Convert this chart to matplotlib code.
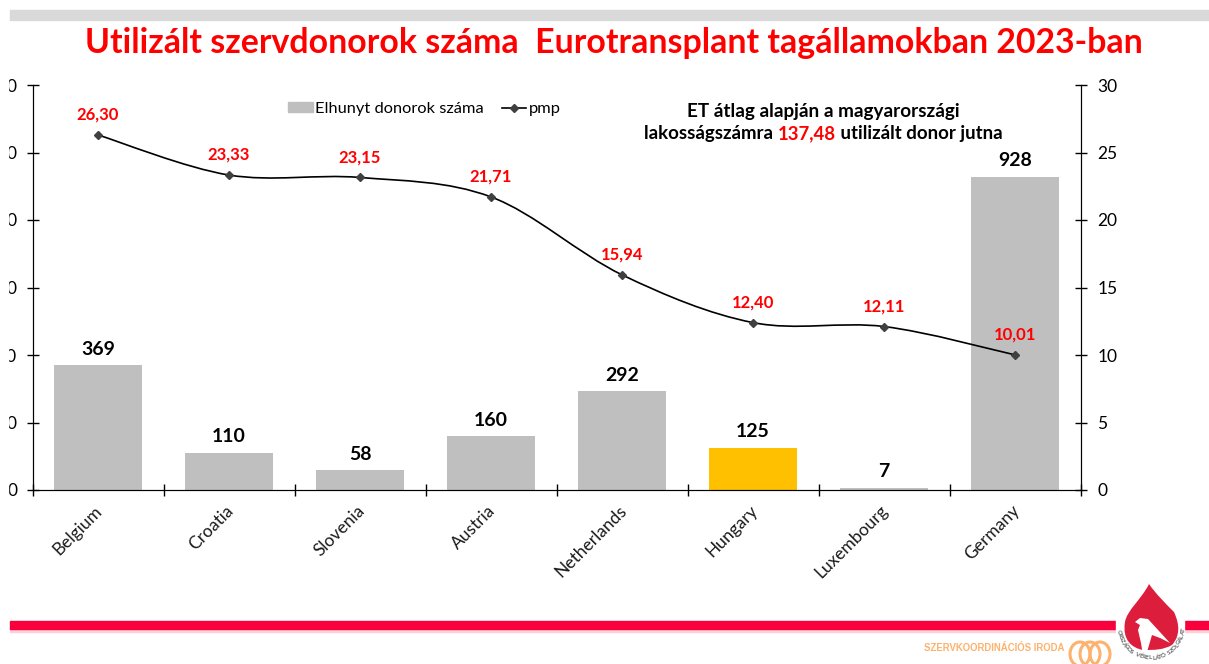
import matplotlib

matplotlib.use("Agg")

import matplotlib.pyplot as plt
from matplotlib.lines import Line2D
from matplotlib.patches import Ellipse, PathPatch, Rectangle
from matplotlib.path import Path
import numpy as np

plt.rcParams["font.family"] = ["Lato", "DejaVu Sans"]

W, H = 1209, 664

TITLE = "Utilizált szervdonorok száma  Eurotransplant tagállamokban 2023-ban"
countries = ["Belgium", "Croatia", "Slovenia", "Austria", "Netherlands", "Hungary", "Luxembourg", "Germany"]
donors = [369, 110, 58, 160, 292, 125, 7, 928]
pmp = [26.30, 23.33, 23.15, 21.71, 15.94, 12.40, 12.11, 10.01]
bar_colors = ["#BFBFBF", "#BFBFBF", "#BFBFBF", "#BFBFBF", "#BFBFBF", "#FFC000", "#BFBFBF", "#BFBFBF"]
left_ticks = [0, 200, 400, 600, 800, 1000, 1200]
right_ticks = [0, 5, 10, 15, 20, 25, 30]
NOTE_1 = "ET átlag alapján a magyarországi"
NOTE_2 = [("lakosságszámra ", "black"), ("137,48", "#FF0000"), (" utilizált donor jutna", "black")]
LOGO_RING = "ORSZÁGOS VÉRELLÁTÓ SZOLGÁLAT"


def smooth_path(xs, ys):
    # Excel style smoothed line: one bezier segment between each pair of points
    pts = np.column_stack([xs, ys])
    verts = [pts[0]]
    codes = [Path.MOVETO]
    for i in range(len(pts) - 1):
        prev_p = pts[max(i - 1, 0)]
        next_p = pts[min(i + 2, len(pts) - 1)]
        verts.append(pts[i] + (pts[i + 1] - prev_p) / 6)
        verts.append(pts[i + 1] - (next_p - pts[i]) / 6)
        verts.append(pts[i + 1])
        codes += [Path.CURVE4, Path.CURVE4, Path.CURVE4]
    return Path(verts, codes)


def draw_logo(deco):
    # gap in the red band
    deco.add_patch(Rectangle((1116, 578), 68, 86, color="white", zorder=3))
    drop = Path(
        [(1149, 584), (1141, 600), (1127, 610), (1125, 622),
         (1122, 640), (1132, 648), (1143, 650),
         (1155, 650), (1163, 650), (1172, 645),
         (1180, 636), (1180, 625), (1174, 612),
         (1165, 603), (1156, 594), (1149, 584)],
        [Path.MOVETO] + [Path.CURVE4] * 15,
    )
    deco.add_patch(PathPatch(drop, facecolor="#DC1E3C", edgecolor="none", zorder=4))
    # pelican
    body = Path(
        [(1135, 622), (1140, 618), (1148, 619), (1170, 643), (1160, 638), (1152, 635),
         (1147, 652), (1143, 655), (1141, 643), (1138, 630), (1140, 625), (1135, 622)],
        [Path.MOVETO] + [Path.LINETO] * 10 + [Path.CLOSEPOLY],
    )
    deco.add_patch(PathPatch(body, facecolor="white", edgecolor="none", zorder=5))
    n = len(LOGO_RING)
    for i, ch in enumerate(LOGO_RING):
        theta = np.radians(-78 + 159 * i / (n - 1))
        deco.text(
            1151 + 33 * np.sin(theta),
            625 + 33 * np.cos(theta),
            ch,
            rotation=np.degrees(theta),
            rotation_mode="anchor",
            ha="center",
            va="center",
            fontsize=4.5,
            fontweight="bold",
            color="#666666",
            zorder=6,
        )


def main():
    fig = plt.figure(figsize=(W / 100, H / 100), dpi=100, facecolor="white")
    ax = fig.add_axes([32.5 / W, 1 - 490 / H, 1048 / W, 405 / H])
    ax2 = ax.twinx()
    x = np.arange(len(countries))

    ax.bar(x, donors, width=0.67, color=bar_colors)
    ax.set_xlim(-0.5, 7.5)
    ax.set_ylim(0, 1200)
    ax.set_yticks(left_ticks)
    ax.set_xticks(np.arange(len(countries) + 1) - 0.5)
    ax.set_xticklabels([])
    # labels sit slightly left of the category centre in the original
    ax.set_xticks(x - 0.03, countries, minor=True)
    ax.tick_params(axis="x", which="major", direction="inout", length=9, width=1)
    ax.tick_params(axis="x", which="minor", length=0, pad=9, labelsize=12.5, labelcolor="#1a1a1a")
    for lab in ax.get_xticklabels(minor=True):
        lab.set_rotation(45)
        lab.set_ha("right")
        lab.set_va("top")
        lab.set_rotation_mode("anchor")
    ax.tick_params(axis="y", direction="inout", length=8, width=1, pad=7, labelsize=12.5)

    ax2.set_ylim(0, 30)
    ax2.set_yticks(right_ticks)
    ax2.tick_params(axis="y", direction="inout", length=8, width=1, pad=8, labelsize=12.5)

    for a in (ax, ax2):
        a.spines["top"].set_visible(False)
    ax.spines["bottom"].set_color("#404040")

    ax2.add_patch(PathPatch(smooth_path(x, pmp), facecolor="none", edgecolor="black", linewidth=1.2))
    ax2.plot(x, pmp, linestyle="none", marker="D", markersize=4.5, color="#404040")

    for xi, v in zip(x, donors):
        ax.annotate(str(v), (xi, v), xytext=(0, 11.5), textcoords="offset points",
                    ha="center", va="center", fontsize=14, fontweight="bold", color="black")
    for xi, v in zip(x, pmp):
        ax2.annotate(f"{v:.2f}".replace(".", ","), (xi, v), xytext=(0, 14.5), textcoords="offset points",
                     ha="center", va="center", fontsize=12, fontweight="bold", color="#FF0000")

    handles = [
        Rectangle((0, 0), 1, 1, color="#BFBFBF"),
        Line2D([0], [0], color="black", linewidth=1.2, marker="D", markersize=4, markerfacecolor="#404040", markeredgecolor="#404040"),
    ]
    ax2.legend(handles, ["Elhunyt donorok száma", "pmp"], ncol=2, frameon=False, fontsize=11.8,
               loc="center", bbox_to_anchor=((424.5 - 32.5) / 1048, (490 - 109) / 405),
               handlelength=1.5, handleheight=0.6, handletextpad=0.15, columnspacing=1.1, borderpad=0)

    # overlay in pixel coordinates for the slide furniture
    deco = fig.add_axes([0, 0, 1, 1], zorder=5)
    deco.set_xlim(0, W)
    deco.set_ylim(H, 0)
    deco.axis("off")
    deco.patch.set_visible(False)

    deco.add_patch(Rectangle((0, 0), 8, H, color="white", zorder=1))
    deco.add_patch(Rectangle((10, 10), W - 10, 10, color="#D9D9D9", zorder=1))
    deco.add_patch(Rectangle((10, 629), W - 10, 2.5, color="#FBD0DA", zorder=1))
    deco.add_patch(Rectangle((10, 621), W - 10, 8, color="#F8003C", zorder=2))

    deco.text(613.5, 43, TITLE, ha="center", va="center", fontsize=24.4, fontweight="bold", color="#FF0000")
    deco.text(823, 111, NOTE_1, ha="center", va="center", fontsize=13.6, fontweight="bold", color="black")

    renderer = fig.canvas.get_renderer()
    pieces = [deco.text(0, 134, s, ha="left", va="center", fontsize=13.4, fontweight="bold", color=c) for s, c in NOTE_2]
    widths = [p.get_window_extent(renderer).width for p in pieces]
    cur = 823 - sum(widths) / 2
    for p, w in zip(pieces, widths):
        p.set_x(cur)
        cur += w

    deco.text(994, 648, "SZERVKOORDINÁCIÓS IRODA", ha="center", va="center", fontsize=6.9, fontweight="bold",
              family="Liberation Sans", color="#FDB26E")
    for cx in (1080, 1090, 1100):
        deco.add_patch(Ellipse((cx, 654), 20, 24, facecolor="none", edgecolor="#FDB26E", linewidth=2.2, zorder=2))
    draw_logo(deco)

    fig.savefig("out.png", dpi=100, facecolor="white")
    plt.close(fig)


if __name__ == "__main__":
    main()
